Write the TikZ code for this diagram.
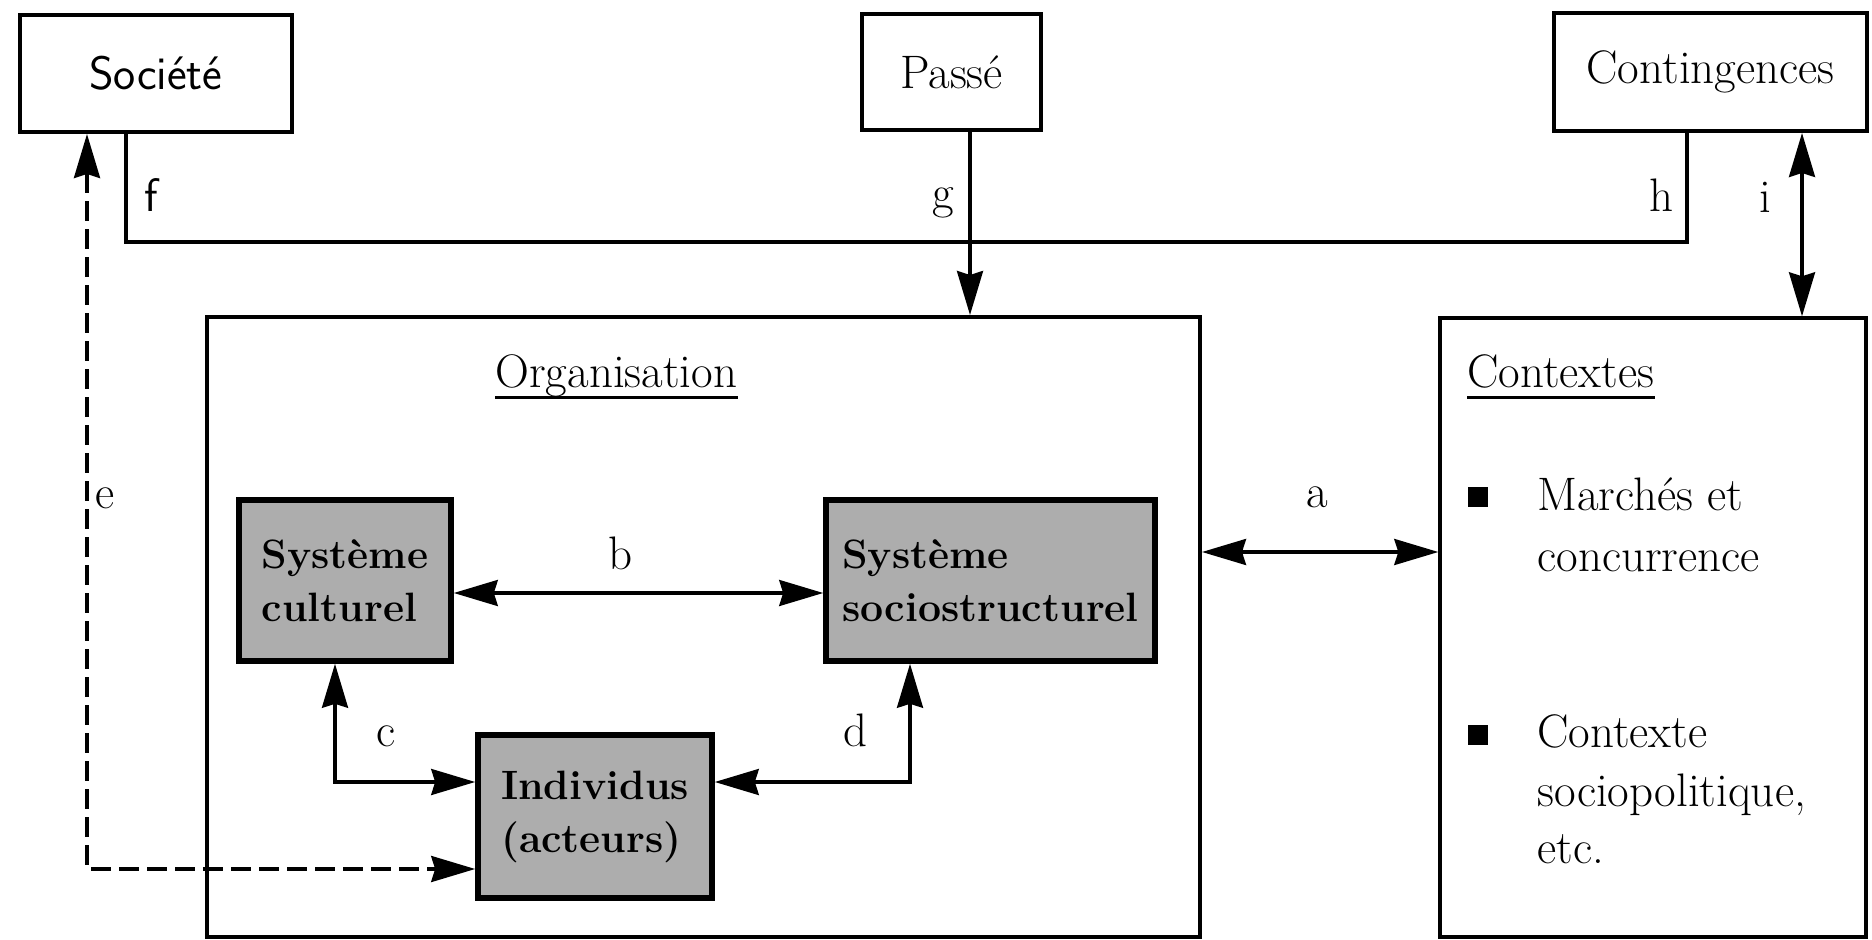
\documentclass[tikz,border=0pt]{standalone}
\usetikzlibrary{arrows.meta}

\tikzset{
  txt/.style={font=\fontsize{23.5}{29.5}\selectfont},
  frame/.style={draw, line width=2pt, inner sep=0pt, txt},
  shadedbox/.style={draw, line width=2.8pt, fill=black!32, inner sep=0pt,
    align=left, font=\bfseries\fontsize{20.5}{26.5}\selectfont},
  conn/.style={line width=1.6pt},
  dashconn/.style={line width=1.7pt, dash pattern=on 10pt off 4pt},
  tip/.tip={Stealth[length=22pt, width=13pt, inset=2pt]},
  lbl/.style={txt, inner sep=0pt},
  line/.style={txt, inner sep=0pt, anchor=base west},
  bullet/.style={fill=black, minimum size=10pt, inner sep=0pt},
}

\begin{document}
\begin{tikzpicture}[x=0.5pt, y=-0.5pt]
\useasboundingbox (0,0) rectangle (1872,940);

% outer boxes
\node[frame, font=\sffamily\fontsize{23.5}{29.5}\selectfont, minimum width=136pt, minimum height=58.5pt] (soc) at (156,73.5) {Société};
\node[frame, minimum width=89.5pt, minimum height=58pt] (passe) at (951.5,72) {Passé};
\node[frame, minimum width=156.5pt, minimum height=59pt] (cont) at (1710.5,72) {Contingences};
\node[frame, minimum width=496.5pt, minimum height=310pt] (org) at (703.5,627) {};
\node[frame, line width=1.7pt, minimum width=213pt, minimum height=309.5pt] (ctx) at (1653,627.5) {};

% inner shaded boxes
\node[shadedbox, minimum width=106pt, minimum height=80.5pt] (cult) at (345,580.5) {Système\\culturel};
\node[shadedbox, minimum width=164.5pt, minimum height=80.5pt] (socio) at (990.5,580.5) {Système\\sociostructurel};
\node[shadedbox, minimum width=117pt, minimum height=81.5pt] (indiv) at (595,816.5) {Individus\\(acteurs)};

% titles
\node[line] (orgtitle) at (495,388) {Organisation};
\draw[line width=1.5pt] ([yshift=-5pt]orgtitle.base west) -- ([yshift=-5pt]orgtitle.base east);
\node[line] (ctxtitle) at (1467,388) {Contextes};
\draw[line width=1.5pt] ([yshift=-5pt]ctxtitle.base west) -- ([yshift=-5pt]ctxtitle.base east);

% context list
\node[bullet] (bul1) at (1478,497) {};
\node[line] (m1) at (1537,510) {Marchés et};
\node[line] (m2) at (1537,571) {concurrence};
\node[bullet] (bul2) at (1478,735) {};
\node[line] (s1) at (1537,747) {Contexte};
\node[line] (s2) at (1537,806) {sociopolitique,};
\node[line] (s3) at (1537,863) {etc.};

% routing points
\coordinate (fcorner) at (126,242);
\coordinate (hcorner) at (1687,242);
\coordinate (gx) at (970,0);
\coordinate (ix) at (1802,0);
\coordinate (ecorner) at (87,869);
\coordinate (ay) at (0,552);
\coordinate (by) at (0,593);
\coordinate (ccorner) at (335,782);
\coordinate (dcorner) at (910,782);

% connectors
\draw[conn] (fcorner |- soc.south) -- (fcorner) -- (hcorner) -- (hcorner |- cont.south);
\draw[conn, -tip] (gx |- passe.south) -- (gx |- org.north);
\draw[conn, tip-tip] (ix |- cont.south) -- (ix |- ctx.north);
\draw[dashconn, tip-tip] (ecorner |- soc.south) -- (ecorner) -- (ecorner -| indiv.west);
\draw[conn, tip-tip] (ay -| org.east) -- (ay -| ctx.west);
\draw[conn, tip-tip] (by -| cult.east) -- (by -| socio.west);
\draw[conn, tip-tip] (ccorner |- cult.south) -- (ccorner) -- (ccorner -| indiv.west);
\draw[conn, tip-tip] (dcorner -| indiv.east) -- (dcorner) -- (dcorner |- socio.south);

% connector labels
\node[lbl, font=\sffamily\fontsize{23.5}{29.5}\selectfont] (lf) at (151,195) {f};
\node[lbl] (lg) at (943,203) {g};
\node[lbl] (lh) at (1661,195) {h};
\node[lbl] (li) at (1765,197) {i};
\node[lbl] (le) at (105,498) {e};
\node[lbl] (la) at (1317,497) {a};
\node[lbl] (lb) at (620,553) {b};
\node[lbl] (lc) at (386,736) {c};
\node[lbl] (ld) at (855,730) {d};
\end{tikzpicture}
\end{document}
